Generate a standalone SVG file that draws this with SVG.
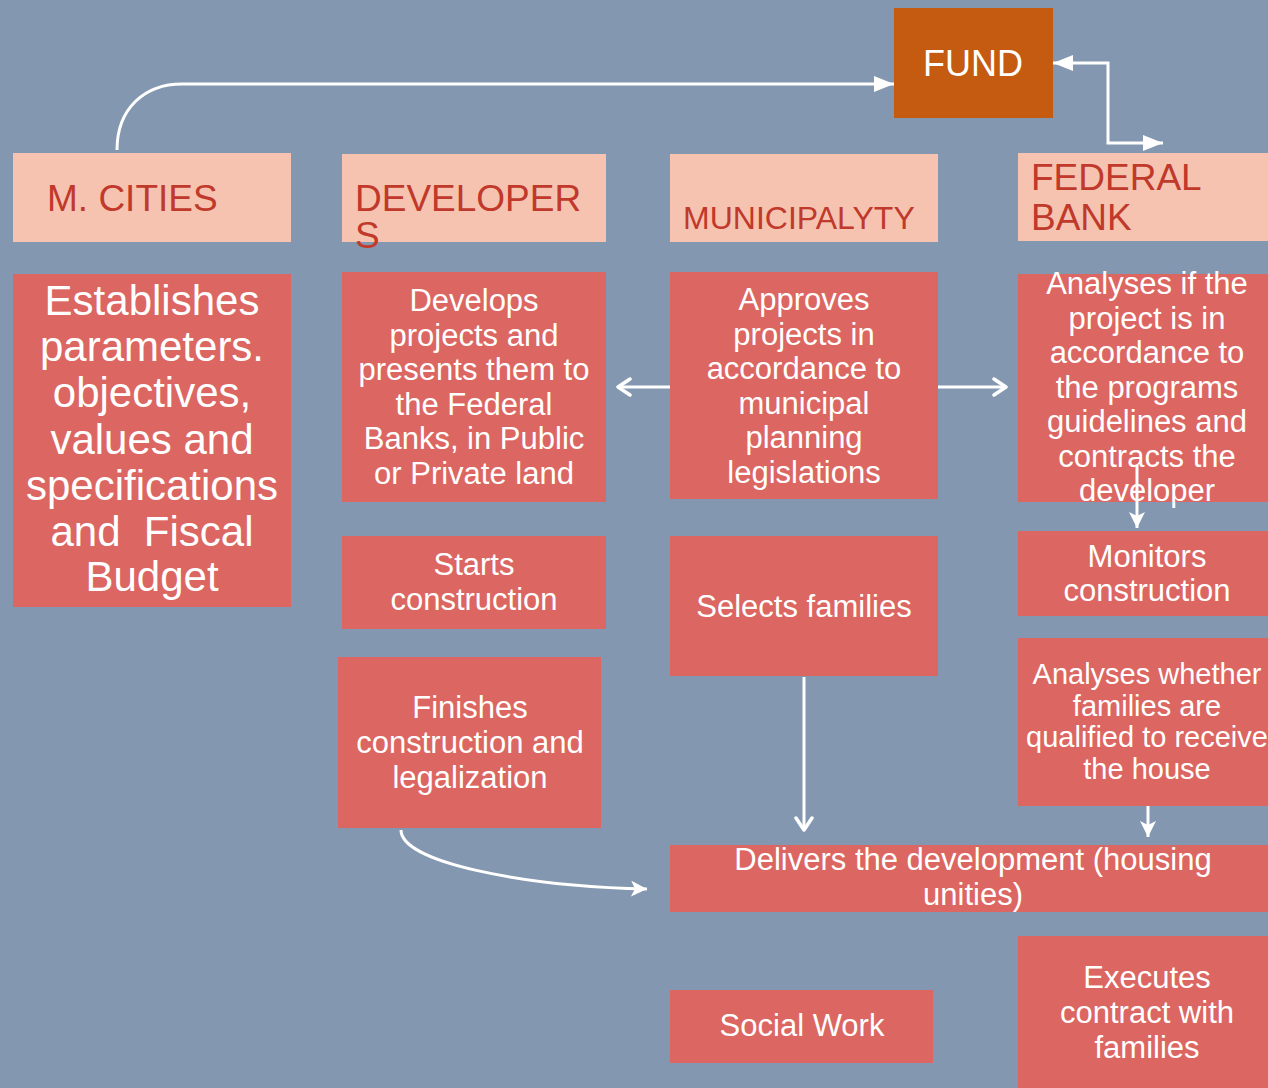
<svg xmlns="http://www.w3.org/2000/svg" width="1268" height="1088" viewBox="0 0 1268 1088">
  <style>
    .hdr { fill: #f6c3b1; }
    .box { fill: #dc6661; }
    .fund { fill: #c55a11; }
    .htxt { font-family: "Liberation Sans", Arial, sans-serif; font-size: 37px; fill: #c0392b; }
    .btxt { font-family: "Liberation Sans", Arial, sans-serif; font-size: 31px; fill: #ffffff; text-anchor: middle; }
    .big { font-size: 42px; }
    .small { font-size: 29px; }
    .mid { font-size: 36px; }
    .muni { font-size: 32px; }
    .wire { fill: none; stroke: #ffffff; stroke-width: 3; }
  </style>
  <defs>
    <marker id="tri" viewBox="0 0 20 16" refX="20" refY="8" markerWidth="20" markerHeight="16" markerUnits="userSpaceOnUse" orient="auto-start-reverse">
      <path d="M0 0 L20 8 L0 16 Z" fill="#ffffff"/>
    </marker>
    <marker id="stealth" viewBox="0 0 16 16" refX="16" refY="8" markerWidth="16" markerHeight="16" markerUnits="userSpaceOnUse" orient="auto">
      <path d="M0 0 L16 8 L0 16 L4 8 Z" fill="#ffffff"/>
    </marker>
    <marker id="open" viewBox="0 0 16 20" refX="14" refY="10" markerWidth="16" markerHeight="20" markerUnits="userSpaceOnUse" orient="auto">
      <path d="M2 2 L14 10 L2 18" fill="none" stroke="#ffffff" stroke-width="3.5" stroke-linecap="round" stroke-linejoin="round"/>
    </marker>
  </defs>

  <rect width="1268" height="1088" fill="#8497b0"/>

  <g id="fund">
    <rect class="fund" x="894" y="8" width="159" height="110"/>
    <text class="btxt mid" x="973" y="76">FUND</text>
  </g>

  <g id="hdr-mcities">
    <rect class="hdr" x="13" y="153" width="278" height="89"/>
    <text class="htxt" x="47" y="211">M. CITIES</text>
  </g>
  <g id="hdr-developers">
    <rect class="hdr" x="342" y="154" width="264" height="88"/>
    <text class="htxt" x="355" y="211">DEVELOPER<tspan x="355" y="248">S</tspan></text>
  </g>
  <g id="hdr-municipality">
    <rect class="hdr" x="670" y="154" width="268" height="88"/>
    <text class="htxt muni" x="683" y="229">MUNICIPALYTY</text>
  </g>
  <g id="hdr-federal-bank">
    <rect class="hdr" x="1018" y="153" width="250" height="88"/>
    <text class="htxt" x="1031" y="190">FEDERAL<tspan x="1031" y="230">BANK</tspan></text>
  </g>

  <g id="establishes">
    <rect class="box" x="13" y="274" width="278" height="333"/>
    <text class="btxt big" x="152" y="315" xml:space="preserve"><tspan x="152" y="315">Establishes</tspan><tspan x="152" y="361">parameters.</tspan><tspan x="152" y="407">objectives,</tspan><tspan x="152" y="454">values and</tspan><tspan x="152" y="500">specifications</tspan><tspan x="152" y="546">and  Fiscal</tspan><tspan x="152" y="591">Budget</tspan></text>
  </g>

  <g id="develops">
    <rect class="box" x="342" y="272" width="264" height="230"/>
    <text class="btxt" x="474" y="311"><tspan x="474" y="311">Develops</tspan><tspan x="474" y="345.5">projects and</tspan><tspan x="474" y="380">presents them to</tspan><tspan x="474" y="414.5">the Federal</tspan><tspan x="474" y="449">Banks, in Public</tspan><tspan x="474" y="483.5">or Private land</tspan></text>
  </g>

  <g id="approves">
    <rect class="box" x="670" y="272" width="268" height="227"/>
    <text class="btxt" x="804" y="310"><tspan x="804" y="310">Approves</tspan><tspan x="804" y="344.5">projects in</tspan><tspan x="804" y="379">accordance to</tspan><tspan x="804" y="413.5">municipal</tspan><tspan x="804" y="448">planning</tspan><tspan x="804" y="482.5">legislations</tspan></text>
  </g>

  <g id="analyses-project">
    <rect class="box" x="1018" y="274" width="250" height="228"/>
    <text class="btxt" x="1147" y="294"><tspan x="1147" y="294">Analyses if the</tspan><tspan x="1147" y="328.5">project is in</tspan><tspan x="1147" y="363">accordance to</tspan><tspan x="1147" y="397.5">the programs</tspan><tspan x="1147" y="432">guidelines and</tspan><tspan x="1147" y="466.5">contracts the</tspan><tspan x="1147" y="501">developer</tspan></text>
  </g>

  <g id="starts">
    <rect class="box" x="342" y="536" width="264" height="93"/>
    <text class="btxt" x="474" y="575"><tspan x="474" y="575">Starts</tspan><tspan x="474" y="610">construction</tspan></text>
  </g>

  <g id="selects">
    <rect class="box" x="670" y="536" width="268" height="140"/>
    <text class="btxt" x="804" y="617">Selects families</text>
  </g>

  <g id="monitors">
    <rect class="box" x="1018" y="531" width="250" height="85"/>
    <text class="btxt" x="1147" y="567"><tspan x="1147" y="567">Monitors</tspan><tspan x="1147" y="601">construction</tspan></text>
  </g>

  <g id="finishes">
    <rect class="box" x="338" y="657" width="263" height="171"/>
    <text class="btxt" x="470" y="718"><tspan x="470" y="718">Finishes</tspan><tspan x="470" y="753">construction and</tspan><tspan x="470" y="788">legalization</tspan></text>
  </g>

  <g id="analyses-families">
    <rect class="box" x="1018" y="638" width="250" height="168"/>
    <text class="btxt small" x="1147" y="684"><tspan x="1147" y="684">Analyses whether</tspan><tspan x="1147" y="716">families are</tspan><tspan x="1147" y="747">qualified to receive</tspan><tspan x="1147" y="779">the house</tspan></text>
  </g>

  <g id="delivers">
    <rect class="box" x="670" y="845" width="598" height="67"/>
    <text class="btxt" x="973" y="870"><tspan x="973" y="870">Delivers the development (housing</tspan><tspan x="973" y="905">unities)</tspan></text>
  </g>

  <g id="social-work">
    <rect class="box" x="670" y="990" width="263" height="73"/>
    <text class="btxt" x="802" y="1036">Social Work</text>
  </g>

  <g id="executes">
    <rect class="box" x="1018" y="936" width="250" height="152"/>
    <text class="btxt" x="1147" y="988"><tspan x="1147" y="988">Executes</tspan><tspan x="1147" y="1023">contract with</tspan><tspan x="1147" y="1058">families</tspan></text>
  </g>

  <!-- connectors sit above the boxes so the line into "Monitors" crosses its source box -->
  <g id="connectors">
    <path class="wire" d="M117 150 C117 108 145 84 182 84 L894 84" marker-end="url(#tri)"/>
    <path class="wire" d="M1163 143 L1108 143 L1108 63 L1053 63" marker-start="url(#tri)" marker-end="url(#tri)"/>
    <path class="wire" stroke-width="3.5" d="M670 387 L618 387" marker-end="url(#open)"/>
    <path class="wire" stroke-width="3.5" d="M938 387 L1006 387" marker-end="url(#open)"/>
    <path class="wire" d="M1137 465 L1137 528" marker-end="url(#stealth)"/>
    <path class="wire" stroke-width="3.5" d="M804 677 L804 830" marker-end="url(#open)"/>
    <path class="wire" d="M1148 806 L1148 837" marker-end="url(#stealth)"/>
    <path class="wire" stroke-width="3.5" d="M401 830 C401 862 520 886 647 889" marker-end="url(#stealth)"/>
  </g>
</svg>
